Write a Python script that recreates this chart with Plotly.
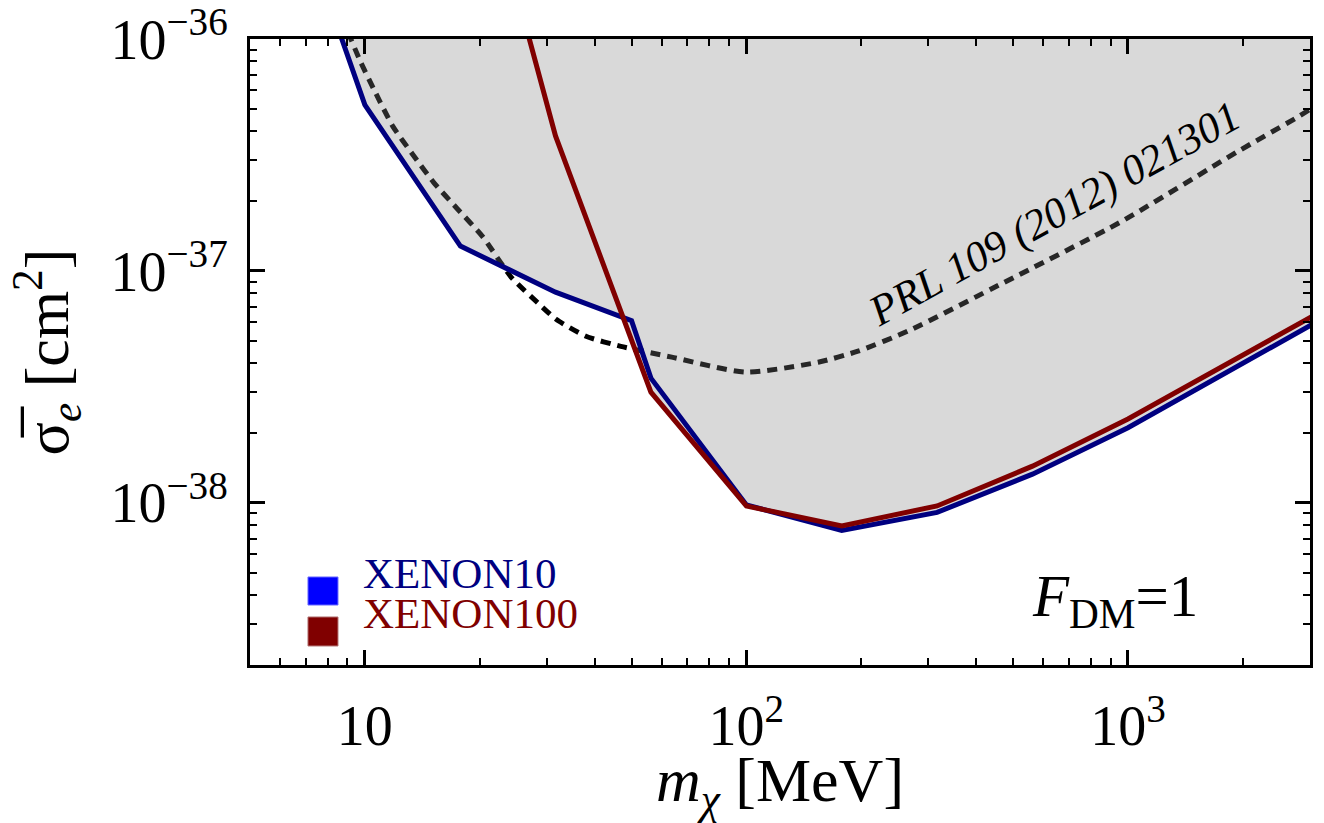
import numpy as np
import plotly.graph_objects as go

# XENON10 limit (mass in MeV, cross section in cm^2)
m_xe10 = [5.62, 10, 17.8, 31.6, 50, 56.2, 100, 177.8, 316, 562, 1000, 3162]
s_xe10 = [7.8e-36, 5.2e-37, 1.28e-37, 8.1e-38, 6.1e-38, 3.45e-38, 9.8e-39,
          7.6e-39, 9.1e-39, 1.33e-38, 2.11e-38, 6.1e-38]

# XENON100 limit
m_xe100 = [17.8, 31.6, 56.2, 100, 177.8, 316, 562, 1000, 3162]
s_xe100 = [1.26e-35, 3.82e-37, 3.0e-38, 9.7e-39, 7.96e-39, 9.7e-39,
           1.44e-38, 2.30e-38, 6.6e-38]

# Earlier XENON10 bound, PRL 109 (2012) 021301
m_prl = [9.03, 9.76, 10.62, 11.84, 13.35, 15.14, 17.49, 20.33, 24.2, 28.64,
         31.71, 37.97, 46.88, 63.72, 99.4, 154.2, 196.1, 264.8, 474, 953,
         1926, 2812, 3005]
s_prl = [1.07e-36, 7.93e-37, 5.95e-37, 4.20e-37, 3.18e-37, 2.41e-37, 1.85e-37,
         1.41e-37, 9.39e-38, 7.19e-38, 6.19e-38, 5.23e-38, 4.73e-38, 4.25e-38,
         3.66e-38, 4.04e-38, 4.51e-38, 5.50e-38, 8.93e-38, 1.62e-37, 3.25e-37,
         4.65e-37, 4.98e-37]

x_ticks = [10, 100, 1000]
x_ticktext = ["10", "10<sup>2</sup>", "10<sup>3</sup>"]
y_ticks = [1e-38, 1e-37, 1e-36]
y_ticktext = ["10<sup>\u221238</sup>", "10<sup>\u221237</sup>", "10<sup>\u221236</sup>"]

NAVY = "#000080"
MAROON = "#800000"
FONT = "Liberation Serif"

# Excluded region: everything above the lower envelope of the two limits
lm10, ls10 = np.log10(m_xe10), np.log10(s_xe10)
lm100, ls100 = np.log10(m_xe100), np.log10(s_xe100)
grid = np.union1d(np.linspace(lm10[0], lm10[-1], 600), np.union1d(lm10, lm100))
env10 = np.interp(grid, lm10, ls10)
env100 = np.interp(grid, lm100, ls100, left=np.inf, right=np.inf)
env = np.minimum(env10, env100)
fill_x = np.concatenate([10 ** grid, [10 ** grid[-1], 10 ** grid[0]]])
fill_y = np.concatenate([10 ** env, [1e-34, 1e-34]])

fig = go.Figure()

fig.add_trace(go.Scatter(
    x=m_prl, y=s_prl, mode="lines",
    line=dict(color="black", width=5, dash="10px,7px", shape="spline", smoothing=0.6),
    hoverinfo="skip", showlegend=False))

fig.add_trace(go.Scatter(
    x=fill_x, y=fill_y, mode="lines", fill="toself",
    fillcolor="rgba(128,128,128,0.3)", line=dict(width=0),
    hoverinfo="skip", showlegend=False))

fig.add_trace(go.Scatter(
    x=m_xe10, y=s_xe10, mode="lines", name="XENON10",
    line=dict(color=NAVY, width=5), showlegend=False))

fig.add_trace(go.Scatter(
    x=m_xe100, y=s_xe100, mode="lines", name="XENON100",
    line=dict(color=MAROON, width=5), showlegend=False))

axis_common = dict(
    type="log", showgrid=False, zeroline=False,
    showline=True, linecolor="black", linewidth=3, mirror="allticks",
    ticks="inside", ticklen=15, tickwidth=2.5, tickcolor="black",
    tickmode="array",
    tickfont=dict(family=FONT, size=56, color="black"),
)

x_minor = [d * 10 ** e for e in range(0, 4) for d in range(2, 10)]
y_minor = [d * 10.0 ** e for e in range(-39, -36) for d in range(2, 10)]

fig.update_xaxes(
    **axis_common, range=[np.log10(5), np.log10(3000)],
    tickvals=x_ticks, ticktext=x_ticktext, ticklabelstandoff=10,
    minor=dict(tickmode="array", tickvals=x_minor, ticks="inside",
               ticklen=7, tickwidth=2, tickcolor="black", showgrid=False),
    title=dict(text="<i>m</i><sub><i>\u03c7</i></sub> [MeV]",
               font=dict(family=FONT, size=62, color="black"), standoff=6),
)
fig.update_yaxes(
    **axis_common, range=[np.log10(2e-39), -36],
    tickvals=y_ticks, ticktext=y_ticktext, ticklabelstandoff=8,
    minor=dict(tickmode="array", tickvals=y_minor, ticks="inside",
               ticklen=7, tickwidth=2, tickcolor="black", showgrid=False),
    title=dict(text="\u03c3\u0305<sub><i>e</i></sub> [cm<sup>2</sup>]",
               font=dict(family=FONT, size=62, color="black"), standoff=22),
)

# Legend swatches and labels
fig.add_shape(type="rect", xref="paper", yref="paper",
              x0=0.0547, x1=0.0830, y0=0.0958, y1=0.1406,
              fillcolor="#0000ff", line=dict(color="#6a6aff", width=1))
fig.add_shape(type="rect", xref="paper", yref="paper",
              x0=0.0547, x1=0.0830, y0=0.0304, y1=0.0767,
              fillcolor=MAROON, line=dict(color="#b07070", width=1))
fig.add_annotation(x=0.1045, y=0.1454, xref="paper", yref="paper",
                   text="XENON10", showarrow=False, xanchor="left", yanchor="middle",
                   font=dict(family=FONT, size=43, color=NAVY))
fig.add_annotation(x=0.1045, y=0.0823, xref="paper", yref="paper",
                   text="XENON100", showarrow=False, xanchor="left", yanchor="middle",
                   font=dict(family=FONT, size=43, color=MAROON))

# Label along the PRL curve
fig.add_annotation(x=np.log10(641), y=-36.756, xref="x", yref="y",
                   text="<i>PRL 109 (2012) 021301</i>", showarrow=False,
                   textangle=-29, font=dict(family=FONT, size=43, color="black"))

fig.add_annotation(x=0.7358, y=0.1038, xref="paper", yref="paper",
                   text="<i>F</i><sub>DM</sub>=1", showarrow=False,
                   xanchor="left", yanchor="middle",
                   font=dict(family=FONT, size=59, color="black"))

fig.update_layout(
    width=1324, height=823,
    margin=dict(l=250, r=14, t=39, b=158, autoexpand=False),
    paper_bgcolor="white", plot_bgcolor="white",
    showlegend=False,
)

fig.write_html("out.html")
